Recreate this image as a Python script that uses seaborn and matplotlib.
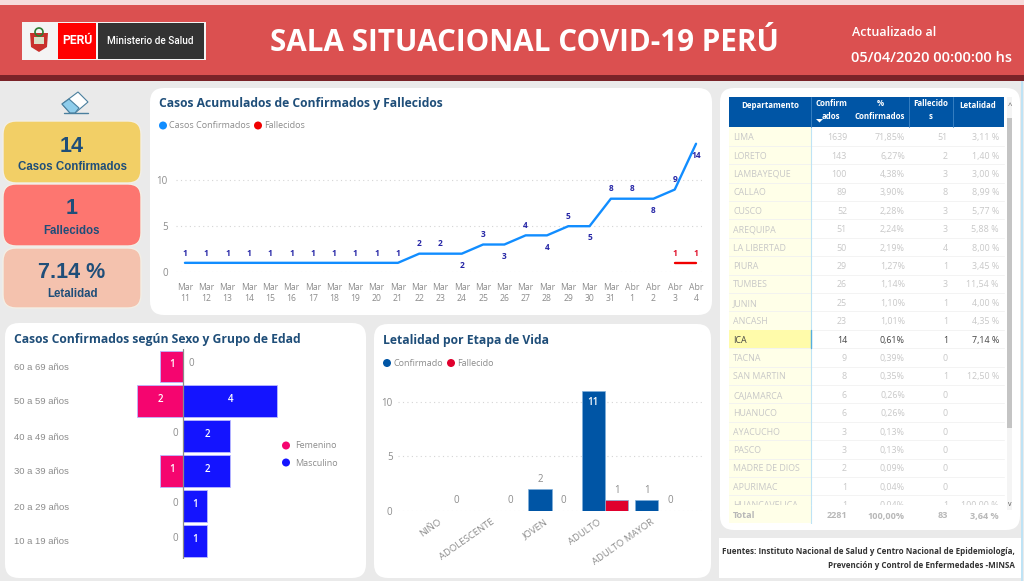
import numpy as np
import pandas as pd
import matplotlib
matplotlib.use('Agg')
import matplotlib.pyplot as plt
from matplotlib.patches import FancyBboxPatch, Rectangle, Polygon, Circle
from matplotlib.transforms import ScaledTranslation
import seaborn as sns

# Line chart data
dias = ['Mar\n11', 'Mar\n12', 'Mar\n13', 'Mar\n14', 'Mar\n15', 'Mar\n16', 'Mar\n17', 'Mar\n18', 'Mar\n19',
        'Mar\n20', 'Mar\n21', 'Mar\n22', 'Mar\n23', 'Mar\n24', 'Mar\n25', 'Mar\n26', 'Mar\n27', 'Mar\n28',
        'Mar\n29', 'Mar\n30', 'Mar\n31', 'Abr\n1', 'Abr\n2', 'Abr\n3', 'Abr\n4']
confirmados = [1, 1, 1, 1, 1, 1, 1, 1, 1, 1, 1, 2, 2, 2, 3, 3, 4, 4, 5, 5, 8, 8, 8, 9, 14]
fallecidos = [np.nan] * 23 + [1, 1]
# +1 label above the line, -1 below it
lado_etiqueta = [1] * 13 + [-1, 1, -1, 1, -1, 1, -1, 1, 1, -1, 1, -1]

# Pyramid data
grupos = ['60 a 69 años', '50 a 59 años', '40 a 49 años', '30 a 39 años', '20 a 29 años', '10 a 19 años']
femenino = [1, 2, 0, 1, 0, 0]
masculino = [0, 4, 2, 2, 1, 1]

# Life stage data
etapas = ['NIÑO', 'ADOLESCENTE', 'JOVEN', 'ADULTO', 'ADULTO MAYOR']
etapa_confirmado = [np.nan, np.nan, 2, 11, 1]
etapa_fallecido = [0, 0, 0, 1, 0]

# Table data
departamentos = ['LIMA', 'LORETO', 'LAMBAYEQUE', 'CALLAO', 'CUSCO', 'AREQUIPA', 'LA LIBERTAD', 'PIURA', 'TUMBES',
                 'JUNIN', 'ANCASH', 'ICA', 'TACNA', 'SAN MARTIN', 'CAJAMARCA', 'HUANUCO', 'AYACUCHO', 'PASCO',
                 'MADRE DE DIOS', 'APURIMAC', 'HUANCAVELICA']
tabla_conf = ['1639', '143', '100', '89', '52', '51', '50', '29', '26', '25', '23', '14', '9', '8', '6', '6', '3',
              '3', '2', '1', '1']
tabla_pct = ['71,85%', '6,27%', '4,38%', '3,90%', '2,28%', '2,24%', '2,19%', '1,27%', '1,14%', '1,10%', '1,01%',
             '0,61%', '0,39%', '0,35%', '0,26%', '0,26%', '0,13%', '0,13%', '0,09%', '0,04%', '0,04%']
tabla_fall = ['51', '2', '3', '8', '3', '3', '4', '1', '3', '1', '1', '1', '0', '1', '0', '0', '0', '0', '0', '0', '1']
tabla_let = ['3,11 %', '1,40 %', '3,00 %', '8,99 %', '5,77 %', '5,88 %', '8,00 %', '3,45 %', '11,54 %', '4,00 %',
             '4,35 %', '7,14 %', '', '12,50 %', '', '', '', '', '', '', '100,00 %']
tabla_total = ['Total', '2281', '100,00%', '83', '3,64 %']

W, H = 1024, 581
AZUL_TITULO = '#1F4E79'
GRIS = '#8C8C8C'

sns.set_theme(style='white')
plt.rcParams['font.family'] = ['Open Sans', 'DejaVu Sans']
fig = plt.figure(figsize=(W / 100, H / 100), dpi=100, facecolor='#EAEAEA')

# background layer in pixel coordinates
bg = fig.add_axes([0, 0, 1, 1])
bg.set_xlim(0, W)
bg.set_ylim(H, 0)
bg.axis('off')


def caja(x0, y0, x1, y1, color, r=14, ec='none', z=1):
    bg.add_patch(FancyBboxPatch((x0 + r, y0 + r), x1 - x0 - 2 * r, y1 - y0 - 2 * r,
                                boxstyle=f'round,pad={r},rounding_size={r}', fc=color, ec=ec, lw=1, zorder=z))


def rect(x0, y0, x1, y1, color, z=2):
    bg.add_patch(Rectangle((x0, y0), x1 - x0, y1 - y0, fc=color, ec='none', zorder=z))


def eje(x0, y0, x1, y1):
    ax = fig.add_axes([x0 / W, 1 - y1 / H, (x1 - x0) / W, (y1 - y0) / H])
    ax.patch.set_alpha(0)
    return ax


def punto(x, y, color):
    bg.add_patch(Circle((x, y), 4, fc=color, ec='none', zorder=3))


# header
rect(0, 0, W, 5, '#F6DADA')
rect(0, 5, W, 75, '#DB5050')
rect(0, 75, W, 81, '#7A2328')
rect(22, 22, 206, 60, '#F4F4F4', 3)
rect(58, 23, 96, 59, '#FF0000', 4)
rect(98, 23, 204, 59, '#333333', 4)
bg.add_patch(Polygon([[30, 33], [48, 33], [47, 47], [39, 52], [31, 47]], fc='#C9302C', ec='none', zorder=4))
bg.add_patch(Rectangle((34, 37), 10, 7, fc='#D8E0C8', ec='none', zorder=5))
bg.add_patch(Circle((39, 32), 4, fc='none', ec='#2E7D32', lw=1.2, zorder=5))
bg.text(77, 41, 'PERÚ', color='white', fontsize=8.7, fontweight='bold', ha='center', va='center', zorder=5,
        family='Roboto')
bg.text(150, 41, 'Ministerio de Salud', color='white', fontsize=7.2, fontweight='medium', ha='center', va='center',
        zorder=5, family='Roboto')
bg.text(524, 43, 'SALA SITUACIONAL COVID-19 PERÚ', color='white', fontsize=21.3, fontweight='bold', ha='center',
        va='center', zorder=5)
bg.text(852, 32.5, 'Actualizado al', color='white', fontsize=9, fontweight='semibold', ha='left', va='center', zorder=5)
bg.text(1012, 58.5, '05/04/2020 00:00:00 hs', color='white', fontsize=10.5, fontweight='semibold', ha='right',
        va='center', zorder=5)

# panels
caja(150, 88, 712, 315, 'white')
caja(5, 323, 366, 578, 'white')
caja(374, 324, 711, 578, 'white')
caja(720, 88, 1020, 530, 'white')
rect(719, 538, 1022, 578, 'white', 1)
rect(1021, 81, 1023, 581, '#BFE3F5', 1)

# eraser icon
bg.add_patch(Polygon([[62, 104], [78, 92], [88, 102], [75, 113], [70, 113]], fc='white', ec='#4A7F9E', lw=0.8, zorder=3))
bg.add_patch(Polygon([[62, 104], [69, 99], [79, 108], [75, 113], [70, 113]], fc='#8FCDEB', ec='#4A7F9E', lw=0.8, zorder=4))
bg.plot([64, 88], [113, 113], color='#4A7F9E', lw=1, zorder=4)

# KPI cards
for (y0, y1, col, num, lab, ynum, ylab) in [(121, 183, '#F2CF66', '14', 'Casos Confirmados', 146, 167),
                                            (184, 246, '#FD7670', '1', 'Fallecidos', 209, 231),
                                            (248, 308, '#F4C2AE', '7.14 %', 'Letalidad', 272, 294)]:
    caja(3, y0, 141, y1, col, r=13, ec='#F3EFE6', z=2)
    bg.text(72, ynum, num, color=AZUL_TITULO, fontsize=15.5, fontweight='bold', ha='center', va='center', zorder=3,
            family='Liberation Sans')
    bg.text(72, ylab, lab, color=AZUL_TITULO, fontsize=8.3, fontweight='bold', ha='center', va='center', zorder=3,
            family='Liberation Sans')

# panel titles and legends
for (x, y, t) in [(159, 103.5, 'Casos Acumulados de Confirmados y Fallecidos'),
                  (14, 339.5, 'Casos Confirmados según Sexo y Grupo de Edad'),
                  (383, 340.5, 'Letalidad por Etapa de Vida')]:
    bg.text(x, y, t, color=AZUL_TITULO, fontsize=8.7, fontweight='bold', ha='left', va='center', zorder=3)

for (xp, xt, y, col, t) in [(163, 169, 125.5, '#118DFF', 'Casos Confirmados'), (258, 264, 125.5, '#F00000', 'Fallecidos'),
                            (387, 393, 363, '#0055A5', 'Confirmado'), (451, 457, 363, '#E0002D', 'Fallecido')]:
    punto(xp, y, col)
    bg.text(xt, y + 0.5, t, color=GRIS, fontsize=6.5, ha='left', va='center', zorder=3)
punto(286, 445.5, '#F5056F')
punto(286, 462.5, '#1414FF')
bg.text(295, 446, 'Femenino', color=GRIS, fontsize=6.5, ha='left', va='center', zorder=3)
bg.text(295, 463, 'Masculino', color=GRIS, fontsize=6.5, ha='left', va='center', zorder=3)

# line chart, 21.3 px per day and 9.17 px per case
ax1 = eje(176, 130, 702, 272)
df_linea = pd.DataFrame({'dia': range(len(dias)), 'conf': confirmados, 'fall': fallecidos})
sns.lineplot(data=df_linea, x='dia', y='conf', color='#118DFF', lw=1.7, ax=ax1, clip_on=False)
sns.lineplot(data=df_linea, x='dia', y='fall', color='#F00000', lw=1.7, ax=ax1, clip_on=False)
ax1.set_xlim(-0.42, 24.28)
ax1.set_ylim(0, 15.5)
ax1.set_xticks(range(len(dias)))
ax1.set_xticklabels(dias, fontsize=6.2, color=GRIS, linespacing=1.25)
ax1.set_yticks([0, 5, 10])
ax1.set_yticklabels(['0', '5', '10'], fontsize=7, color=GRIS)
ax1.tick_params(axis='x', length=0, pad=8)
ax1.tick_params(axis='y', length=0, pad=6)
ax1.grid(axis='y', color='#D5D5D5', ls=(0, (1, 3)), lw=0.8)
ax1.set(xlabel='', ylabel='')
sns.despine(ax=ax1, left=True, bottom=True)
for i, v in enumerate(confirmados):
    off = 7 if lado_etiqueta[i] > 0 else -8.5
    ax1.annotate(str(v), (i, v), xytext=(0, off), textcoords='offset points', ha='center', va='center',
                 fontsize=6, fontweight='bold', color='#2626A6', annotation_clip=False)
for i, v in enumerate(fallecidos):
    if not np.isnan(v):
        ax1.annotate(str(int(v)), (i, v), xytext=(0, 7), textcoords='offset points', ha='center', va='center',
                     fontsize=6, fontweight='bold', color='#E0102A', annotation_clip=False)

# pyramid
ax2 = eje(14, 349, 330, 558.5)
df_pir = pd.DataFrame({'grupo': grupos * 2,
                       'valor': [-v for v in femenino] + masculino,
                       'sexo': ['Femenino'] * 6 + ['Masculino'] * 6})
sns.barplot(data=df_pir, y='grupo', x='valor', hue='sexo', dodge=False, width=0.91, legend=False, saturation=1,
            palette={'Femenino': '#F5056F', 'Masculino': '#1414FF'}, edgecolor='#B9B9FF', linewidth=0.6, ax=ax2)
ax2.set_xlim(-7.24, 6.26)
ax2.axvline(0, color='#8A8A8A', lw=0.9, ymin=0.0, ymax=1.0)
ax2.set(xlabel='', ylabel='')
ax2.set_xticks([])
ax2.set_yticks([])
sns.despine(ax=ax2, left=True, bottom=True)
for i, g in enumerate(grupos):
    bg.text(14, 367 + i * 35, g, color=GRIS, fontsize=6.8, ha='left', va='center', zorder=3, family='Liberation Sans')
    for val, sgn in [(femenino[i], -1), (masculino[i], 1)]:
        if val > 0:
            ax2.text(sgn * val / 2, i - 0.05, str(val), color='white', fontsize=7, fontweight='semibold',
                     ha='center', va='center')
        else:
            ax2.annotate('0', (0, i), xytext=(sgn * 6, 2), textcoords='offset points', color=GRIS, fontsize=7,
                         ha='center', va='center')

# life stage bars, 53.3 px per group and 10.9 px per case
ax3 = eje(398, 385, 703, 510.7)
df_etapa = pd.DataFrame({'etapa': etapas * 2, 'valor': etapa_confirmado + etapa_fallecido,
                         'tipo': ['Confirmado'] * 5 + ['Fallecido'] * 5})
sns.barplot(data=df_etapa, x='etapa', y='valor', hue='tipo', width=0.875, gap=0, legend=False, saturation=1,
            palette={'Confirmado': '#0055A5', 'Fallecido': '#E0002D'}, edgecolor='#7FB0DA', linewidth=0.5, ax=ax3)
ax3.set_xlim(-0.88, 4.84)
ax3.set_ylim(0, 11.53)
ax3.set_yticks([0, 5, 10])
ax3.set_yticklabels(['0', '5', '10'], fontsize=7, color=GRIS)
ax3.set_xticks(range(len(etapas)))
ax3.set_xticklabels(etapas, fontsize=6.8, color=GRIS, rotation=35, ha='right', rotation_mode='anchor')
ax3.tick_params(axis='x', length=0, pad=5)
ax3.tick_params(axis='y', length=0, pad=4)
ax3.grid(axis='y', color='#D5D5D5', ls=(0, (1, 3)), lw=0.8)
ax3.set_axisbelow(True)
ax3.set(xlabel='', ylabel='')
sns.despine(ax=ax3, left=True, bottom=True)
for etiqueta in ax3.get_xticklabels():
    etiqueta.set_transform(etiqueta.get_transform() + ScaledTranslation(-5 / 72, 0, fig.dpi_scale_trans))
for i in range(len(etapas)):
    v = etapa_confirmado[i]
    if not np.isnan(v):
        if v > 5:
            ax3.text(i - 0.22, v - 1.1, str(int(v)), color='white', fontsize=7, fontweight='semibold', ha='center',
                     va='center')
        else:
            ax3.annotate(str(int(v)), (i - 0.22, v), xytext=(0, 7), textcoords='offset points', color=GRIS,
                         fontsize=7, ha='center', va='center')
    ax3.annotate(str(etapa_fallecido[i]), (i + 0.22, etapa_fallecido[i]), xytext=(0, 7), textcoords='offset points',
                 color=GRIS, fontsize=7, ha='center', va='center')

# table
rect(729, 97, 1004, 127, '#0055A5', 3)
for xd in [811, 909, 953]:
    bg.plot([xd, xd], [97, 127], color='#3F86C6', lw=0.6, zorder=4)
ENC = dict(color='white', fontsize=5.7, fontweight='bold', ha='center', va='center', zorder=5, linespacing=1.45)
bg.text(770, 105.5, 'Departamento', **ENC)
bg.text(831, 110, 'Confirm\nados', **ENC)
bg.text(880, 110, '%\nConfirmados', **ENC)
bg.text(931, 110, 'Fallecido\ns', **ENC)
bg.text(978, 105.5, 'Letalidad', **ENC)
bg.add_patch(Polygon([[816, 119], [823, 119], [819.5, 122.5]], fc='white', ec='none', zorder=5))

rect(729, 127, 811, 523, '#FFFFE8', 2)
bg.plot([811, 811], [127, 523], color='#BFE3F5', lw=0.8, zorder=3)
columnas = [(tabla_conf, 847), (tabla_pct, 905), (tabla_fall, 948), (tabla_let, 999)]
for i, dep in enumerate(departamentos):
    y = 136.7 + i * 18.4
    activo = dep == 'ICA'
    col = '#444444' if activo else '#C8C8C8'
    if activo:
        rect(729, y - 9.2, 811, y + 9.2, '#FFFBAA', 3)
        bg.plot([811, 811], [y - 9.2, y + 9.2], color='#55AEE0', lw=1, zorder=4)
    if i < len(departamentos) - 1:
        bg.plot([729, 1004], [y + 9.2, y + 9.2], color='#F1F1F1', lw=0.6, zorder=2.5)
    bg.text(733, y + 1, dep, color=col, fontsize=6.4, ha='left', va='center', zorder=4)
    for vals, xr in columnas:
        bg.text(xr, y + 1, vals[i], color=col, fontsize=6.4, ha='right', va='center', zorder=4)
# total row hides the last row partly
rect(811, 505, 1004, 523, 'white', 4.5)
rect(729, 505, 811, 523, '#FFFFE8', 4.5)
bg.plot([811, 811], [505, 523], color='#BFE3F5', lw=0.8, zorder=4.6)
bg.text(733, 516, tabla_total[0], color='#B8B8B8', fontsize=6.6, fontweight='bold', ha='left', va='center', zorder=5)
for txt, (_, xr) in zip(tabla_total[1:], columnas):
    bg.text(xr, 516, txt, color='#B8B8B8', fontsize=6.6, fontweight='bold', ha='right', va='center', zorder=5)

# scrollbar
rect(1007, 97, 1012, 510, '#F4F4F4', 3)
rect(1007, 118, 1012, 428, '#C4C4C4', 4)
bg.text(1009.5, 107, '^', color='#555555', fontsize=5.5, ha='center', va='center', zorder=5)
bg.text(1009.5, 505, 'v', color='#555555', fontsize=5, ha='center', va='center', zorder=5)

# footer
bg.text(1015, 551.5, 'Fuentes: Instituto Nacional de Salud y Centro Nacional de Epidemiología,', color='#333333',
        fontsize=5.8, fontweight='bold', ha='right', va='center', zorder=3)
bg.text(1015, 565.5, 'Prevención y Control de Enfermedades -MINSA', color='#333333', fontsize=5.8, fontweight='bold',
        ha='right', va='center', zorder=3)

fig.savefig('out.png', dpi=100, facecolor=fig.get_facecolor())
